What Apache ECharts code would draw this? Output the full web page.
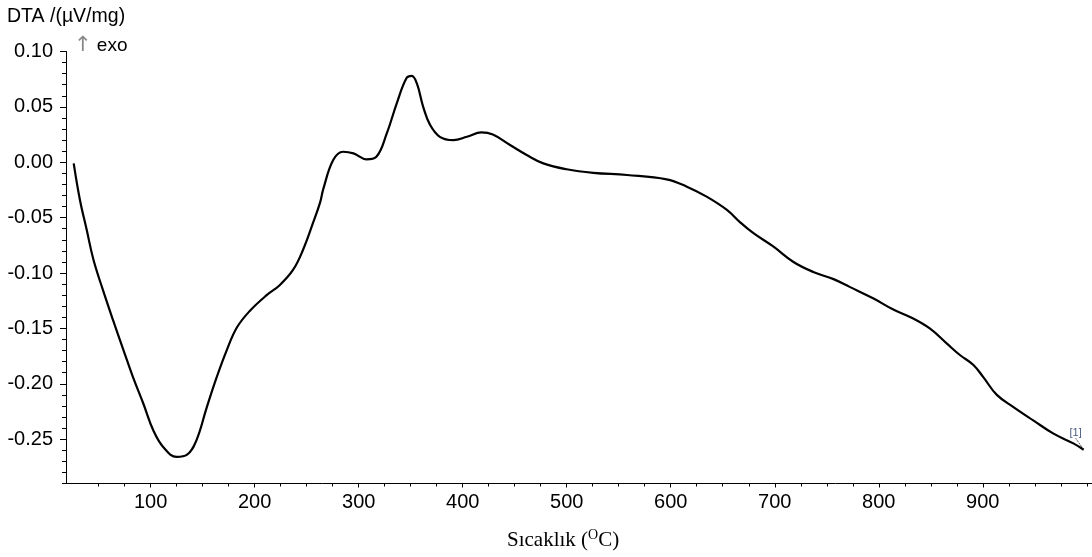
<!DOCTYPE html>
<html>
<head>
<meta charset="utf-8">
<title>DTA</title>
<script src="https://cdn.jsdelivr.net/npm/echarts@6/dist/echarts.min.js"></script>
<style>
  html, body { margin: 0; padding: 0; background: #fff; }
  #chart { width: 1092px; height: 557px; }
</style>
</head>
<body>
<div id="chart"></div>
<script>
// sıcaklık (°C) and DTA signal (µV/mg)
var temps = [26, 32, 38.5, 45, 54, 64, 74, 83, 93, 102.5, 112, 125, 135, 144, 154, 163.5, 173, 183,
  195.5, 211.5, 224, 237, 246.5, 256, 263, 266, 275.5, 285, 295, 307.5, 317, 327, 336.5, 346, 351,
  356, 362, 368.5, 378, 391, 404, 418, 429, 445.5, 461.5, 477.5, 500, 525.5, 558, 596, 615.5, 634.5,
  654, 666.5, 679.5, 698.5, 718, 737, 756.5, 772, 795, 814, 830, 849, 865.5, 878, 891, 900.5, 913.5,
  929.5, 948.5, 968, 987.5, 997];
var dta = [-0.001, -0.034, -0.061, -0.088, -0.115, -0.143, -0.170, -0.194, -0.218, -0.242, -0.257,
  -0.266, -0.264, -0.251, -0.221, -0.194, -0.170, -0.149, -0.134, -0.120, -0.111, -0.097, -0.079,
  -0.055, -0.036, -0.024, 0.002, 0.0095, 0.008, 0.0027, 0.005, 0.026, 0.053, 0.076, 0.078, 0.071,
  0.050, 0.034, 0.023, 0.020, 0.023, 0.027, 0.025, 0.0156, 0.0066, -0.001, -0.0063, -0.0095, -0.0115,
  -0.0154, -0.022, -0.031, -0.043, -0.054, -0.064, -0.076, -0.090, -0.099, -0.1055, -0.1125, -0.123,
  -0.133, -0.1396, -0.150, -0.1637, -0.174, -0.183, -0.194, -0.210, -0.221, -0.233, -0.245, -0.254,
  -0.2595];

var xTicks = [100, 200, 300, 400, 500, 600, 700, 800, 900];
var yTicks = [-0.25, -0.20, -0.15, -0.10, -0.05, 0.00, 0.05, 0.10];

var xMin = 18.6, xMax = 1005, yMin = -0.29, yMax = 0.10;

var xMinor = [];
for (var t = 50; t < xMax; t += 25) xMinor.push(t);
var yMinor = [];
for (var k = -29; k <= 10; k++) yMinor.push(k / 100);

var font = "'Liberation Sans', Arial, sans-serif";
var serif = "'Liberation Serif', 'Times New Roman', serif";

var curve = temps.map(function (t, i) { return [t, dta[i]]; });
var last = curve[curve.length - 1];

var chart = echarts.init(document.getElementById('chart'));

var option = {
  animation: false,
  backgroundColor: '#fff',
  title: {
    text: 'DTA /(µV/mg)',
    left: 2,
    top: 2,
    textStyle: { fontFamily: font, fontSize: 19.5, fontWeight: 'normal', color: '#000' }
  },
  grid: { left: 66, right: 0, top: 51.5, bottom: 73.5 },
  xAxis: [{
    type: 'value',
    min: xMin,
    max: xMax,
    axisLine: { show: true, onZero: false, lineStyle: { color: '#000', width: 1 } },
    axisTick: { show: true, customValues: xTicks, length: 4, lineStyle: { color: '#000' } },
    axisLabel: {
      customValues: xTicks,
      margin: 9,
      color: '#000',
      fontSize: 20,
      fontFamily: font
    },
    splitLine: { show: false }
  }, {
    type: 'value',
    position: 'bottom',
    min: xMin,
    max: xMax,
    axisLine: { show: false, onZero: false },
    axisTick: { show: true, customValues: xMinor, length: 3, lineStyle: { color: '#000' } },
    axisLabel: { show: false },
    splitLine: { show: false }
  }],
  yAxis: [{
    type: 'value',
    min: yMin,
    max: yMax,
    axisLine: { show: true, onZero: false, lineStyle: { color: '#000', width: 1 } },
    axisTick: { show: true, customValues: yTicks, length: 6, lineStyle: { color: '#000' } },
    axisLabel: {
      customValues: yTicks,
      margin: 13,
      color: '#000',
      fontSize: 20,
      fontFamily: font,
      formatter: function (v) { return v.toFixed(2); }
    },
    splitLine: { show: false }
  }, {
    type: 'value',
    position: 'left',
    min: yMin,
    max: yMax,
    axisLine: { show: false, onZero: false },
    axisTick: { show: true, customValues: yMinor, length: 4, lineStyle: { color: '#000' } },
    axisLabel: { show: false },
    splitLine: { show: false }
  }],
  graphic: [{
    type: 'text',
    left: 74,
    top: 35,
    style: {
      text: '{a|↑}{b| exo}',
      rich: {
        a: { fontSize: 21, fontFamily: "'DejaVu Sans', sans-serif", fill: '#888' },
        b: { fontSize: 19, fontFamily: font, fill: '#000' }
      }
    }
  }, {
    type: 'text',
    left: 507,
    top: 528,
    style: {
      text: '{a|Sıcaklık (}{s|O}{a|C)}',
      rich: {
        a: { fontSize: 21, lineHeight: 24, fontFamily: serif, fill: '#000' },
        s: { fontSize: 14, lineHeight: 14, verticalAlign: 'top', fontFamily: serif, fill: '#000' }
      }
    }
  }],
  series: [{
    type: 'line',
    xAxisIndex: 0,
    yAxisIndex: 0,
    data: curve,
    smooth: 0.4,
    showSymbol: false,
    symbol: 'none',
    lineStyle: { color: '#000', width: 2.2 },
    itemStyle: { color: '#000' },
    z: 3
  }, {
    // curve marker "[1]" at the end point
    type: 'scatter',
    xAxisIndex: 0,
    yAxisIndex: 0,
    data: [last],
    symbolSize: 1,
    itemStyle: { color: 'rgba(0,0,0,0)' },
    silent: true,
    label: {
      show: true,
      formatter: '[1]',
      position: 'top',
      distance: 0,
      color: '#1a3060',
      fontSize: 11,
      fontFamily: font
    },
    labelLayout: { dx: -8, dy: -11 },
    labelLine: { show: true, lineStyle: { color: '#222', width: 0.8, type: [2, 1] } },
    z: 4
  }]
};

chart.setOption(option);
</script>
</body>
</html>
